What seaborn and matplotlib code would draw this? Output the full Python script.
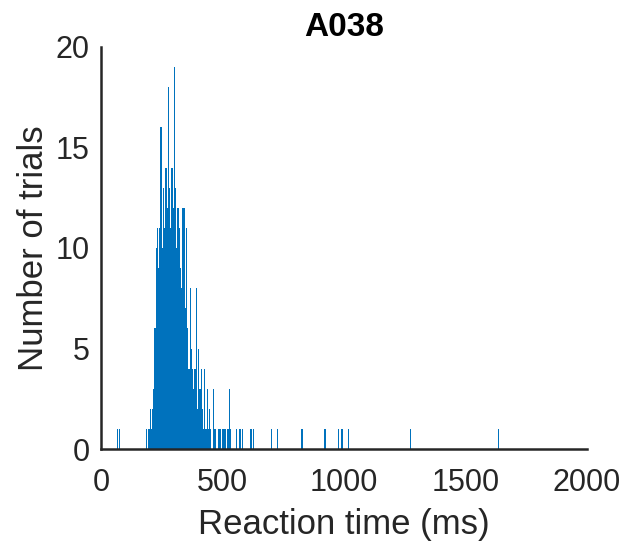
import numpy as np
import pandas as pd
import matplotlib
matplotlib.use("Agg")
import matplotlib.pyplot as plt
import seaborn as sns

# Histogram data: bin start (ms) and number of trials (5 ms bins)
bin_width = 5
bin_starts = [65, 75,
              185, 190, 195, 200, 205, 210, 215, 220, 225, 230, 235, 240, 245, 250,
              255, 260, 265, 270, 275, 280, 285, 290, 295, 300, 305, 310, 315, 320,
              325, 330, 335, 340, 345, 350, 355, 360, 365, 370, 375, 380, 385, 390,
              395, 400, 405, 410, 415, 420, 425, 430, 435, 440, 445, 450, 460, 465,
              470, 480, 485, 490, 500, 505, 510, 520, 525, 530,
              555, 570, 580, 615, 625, 700, 725, 825, 920, 975, 990, 1015, 1270, 1635]
counts = [1, 1,
          1, 0, 1, 2, 1, 2, 3, 6, 10, 11, 9, 11, 16, 10,
          13, 11, 14, 12, 18, 13, 11, 14, 12, 19, 13, 10, 12, 11,
          9, 8, 12, 12, 7, 11, 6, 4, 8, 5, 4, 3, 4, 8,
          2, 5, 3, 4, 2, 1, 4, 1, 3, 1, 2, 1, 3, 1,
          1, 1, 1, 1, 1, 1, 1, 1, 3, 1,
          1, 1, 1, 1, 1, 1, 1, 1, 1, 1, 1, 1, 1, 1]

title = "A038"
xlabel = "Reaction time (ms)"
ylabel = "Number of trials"
xticks = [0, 500, 1000, 1500, 2000]
yticks = [0, 5, 10, 15, 20]

df = pd.DataFrame({"rt": np.array(bin_starts, dtype=float) + bin_width / 2,
                   "n": np.array(counts, dtype=float)})

sns.set_style("white")
plt.rcParams["font.family"] = ["Liberation Sans", "DejaVu Sans"]

fig = plt.figure(figsize=(6.27, 5.5), dpi=100)
ax = fig.add_axes([0.161, 0.1836, 0.775, 0.731])

sns.histplot(data=df, x="rt", weights="n", binwidth=bin_width, binrange=(0, 2000),
             ax=ax, color="#0072BD", edgecolor="none", alpha=1.0, linewidth=0)

ax.set_xlim(0, 2000)
ax.set_ylim(0, 20)
ax.set_xticks(xticks)
ax.set_yticks(yticks)
ax.set_xticklabels([str(t) for t in xticks])
ax.set_yticklabels([str(t) for t in yticks])
ax.tick_params(direction="in", length=5, width=1.5, colors="#262626",
               labelsize=22, labelcolor="#262626")
ax.tick_params(axis="x", pad=14)
ax.tick_params(axis="y", pad=8)
for s in ["top", "right"]:
    ax.spines[s].set_visible(False)
for s in ["left", "bottom"]:
    ax.spines[s].set_color("#262626")
    ax.spines[s].set_linewidth(1.8)

ax.set_xlabel(xlabel, fontsize=25, color="#262626", labelpad=7)
ax.set_ylabel(ylabel, fontsize=25, color="#262626", labelpad=4)
ax.set_title(title, fontsize=24, fontweight="bold", color="black", pad=8)

fig.savefig("out.png", dpi=100)
